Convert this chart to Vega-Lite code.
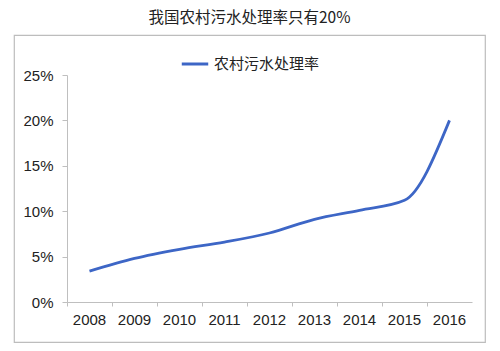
{
  "$schema": "https://vega.github.io/schema/vega-lite/v6.json",
  "width": 471,
  "height": 307,
  "autosize": {"type": "none"},
  "padding": {"left": 14, "top": 35, "right": 15, "bottom": 9},
  "background": "white",
  "title": {
    "text": "我国农村污水处理率只有20%",
    "font": "Noto Sans CJK SC",
    "fontSize": 15.5,
    "fontWeight": "normal",
    "color": "#222222",
    "anchor": "middle",
    "offset": 9
  },
  "config": {
    "view": {"stroke": "#BDBDBD", "strokeWidth": 1.2}
  },
  "data": {
    "values": [
      {"year": "2008", "rate": 0.034, "series": "农村污水处理率"},
      {"year": "2009", "rate": 0.048, "series": "农村污水处理率"},
      {"year": "2010", "rate": 0.058, "series": "农村污水处理率"},
      {"year": "2011", "rate": 0.066, "series": "农村污水处理率"},
      {"year": "2012", "rate": 0.076, "series": "农村污水处理率"},
      {"year": "2013", "rate": 0.091, "series": "农村污水处理率"},
      {"year": "2014", "rate": 0.101, "series": "农村污水处理率"},
      {"year": "2015", "rate": 0.112, "series": "农村污水处理率"},
      {"year": "2016", "rate": 0.200, "series": "农村污水处理率"}
    ]
  },
  "mark": {"type": "line", "interpolate": "monotone", "strokeWidth": 2.8},
  "encoding": {
    "x": {
      "field": "year",
      "type": "ordinal",
      "bandPosition": 0.5,
      "scale": {"type": "band", "paddingInner": 0, "paddingOuter": 0, "range": [53, 458]},
      "axis": {
        "title": null,
        "orient": "bottom",
        "offset": -40,
        "bandPosition": 0,
        "labelAngle": 0,
        "labelFont": "Liberation Sans",
        "labelFontSize": 15,
        "labelColor": "#222222",
        "labelPadding": 6,
        "tickSize": 4,
        "tickColor": "#BFBFBF",
        "domainColor": "#BFBFBF",
        "grid": false
      }
    },
    "y": {
      "field": "rate",
      "type": "quantitative",
      "scale": {"domain": [0, 0.25], "range": [267, 40], "nice": false},
      "axis": {
        "title": null,
        "offset": -53,
        "values": [0, 0.05, 0.1, 0.15, 0.2, 0.25],
        "format": ".0%",
        "labelFont": "Liberation Sans",
        "labelFontSize": 15,
        "labelColor": "#222222",
        "labelPadding": 9,
        "tickSize": 5,
        "tickColor": "#BFBFBF",
        "domainColor": "#BFBFBF",
        "grid": false
      }
    },
    "color": {
      "field": "series",
      "type": "nominal",
      "scale": {"range": ["#3D66C6"]},
      "legend": {
        "title": null,
        "orient": "none",
        "legendX": 166,
        "legendY": 14,
        "direction": "horizontal",
        "symbolType": "stroke",
        "symbolSize": 700,
        "symbolStrokeWidth": 3,
        "labelFont": "Noto Sans CJK SC",
        "labelFontSize": 15,
        "labelColor": "#222222",
        "labelOffset": 4
      }
    }
  }
}
